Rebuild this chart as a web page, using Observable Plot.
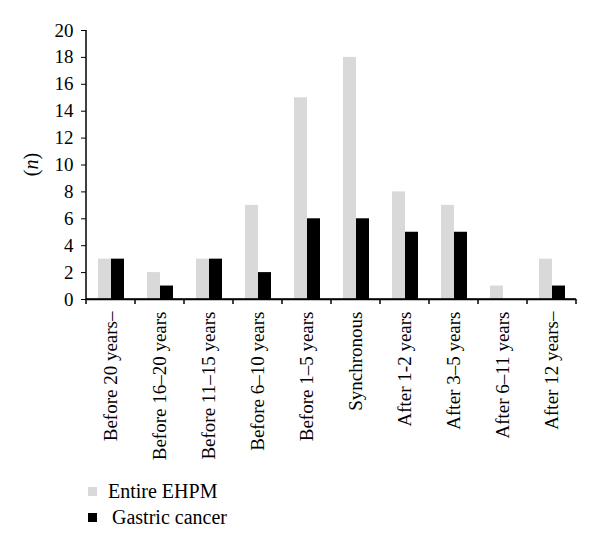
<!DOCTYPE html>
<html><head><meta charset="utf-8">
<script src="https://cdn.jsdelivr.net/npm/d3@7"></script>
<script src="https://cdn.jsdelivr.net/npm/@observablehq/plot@0.6"></script>
<style>
body{margin:0;background:#fff;font-family:"Liberation Serif",serif;color:#000}
#legend{margin-top:8px}
.item{display:flex;align-items:center;height:26px;font-size:20px}
.sw{width:9px;height:9px;margin-left:88px}
</style>
</head><body><div id="chart"></div><div id="legend"></div><script>
const categories = ["Before 20 years–","Before 16–20 years","Before 11–15 years","Before 6–10 years","Before 1–5 years","Synchronous","After 1-2 years","After 3–5 years","After 6–11 years","After 12 years–"];
const seriesNames = ["Entire EHPM","Gastric cancer"];
const seriesColors = ["#d9d9d9","#000000"];
const entireEHPM = [3,2,3,7,15,18,8,7,1,3];
const gastricCancer = [3,1,3,2,6,6,5,5,0,1];
const yTicks = [0,2,4,6,8,10,12,14,16,18,20];
const yLabel = "n";

const data = [];
categories.forEach((c,i)=>{
  data.push({cat:c, series:seriesNames[0], value:entireEHPM[i]});
  data.push({cat:c, series:seriesNames[1], value:gastricCancer[i]});
});

const chart = Plot.plot({
  width: 600, height: 470,
  marginTop: 30, marginBottom: 171, marginLeft: 82, marginRight: 21,
  style: {fontFamily: "'Liberation Serif', serif", fontSize: "19px", color: "#000", background: "#fff"},
  fx: {domain: categories, padding: 0, label: null},
  x: {domain: seriesNames, paddingInner: 0, paddingOuter: 0.775, axis: null},
  y: {domain: [0,20], label: null},
  color: {domain: seriesNames, range: seriesColors},
  marks: [
    Plot.barY(data, {fx: "cat", x: "series", y: "value", fill: "series"}),
    Plot.ruleY([0], {stroke: "#000", strokeWidth: 1.5}),
    Plot.axisY({ticks: yTicks, tickSize: 5, tickPadding: 8, label: null, fontSize: 19}),
    Plot.axisFx({anchor: "bottom", tickRotate: -90, tickSize: 0, tickPadding: 12, label: null, fontSize: 19})
  ]
});
document.getElementById("chart").appendChild(chart);

// boundary ticks, y axis line, y label
const svg = d3.select(chart);
const fx = chart.scale("fx"), y = chart.scale("y");
const y0 = y.apply(0), yTop = y.apply(20);
const left = fx.apply(categories[0]);
const right = fx.apply(categories[categories.length-1]) + fx.bandwidth;
const edges = categories.map(c => fx.apply(c)).concat([right]);
const g = svg.append("g").attr("stroke","#000").attr("stroke-width",1.5);
edges.forEach(e => g.append("line").attr("x1",e).attr("x2",e).attr("y1",y0).attr("y2",y0+5));
g.append("line").attr("x1",left).attr("x2",left).attr("y1",yTop).attr("y2",y0);
g.append("line").attr("x1",left).attr("x2",right).attr("y1",y0).attr("y2",y0);
const t = svg.append("text")
  .attr("transform",`translate(31,${(y0+yTop)/2}) rotate(-90)`)
  .attr("text-anchor","middle").attr("dominant-baseline","central")
  .attr("font-size",20).attr("font-family","'Liberation Serif', serif");
t.append("tspan").text("(");
t.append("tspan").attr("font-style","italic").text(yLabel);
t.append("tspan").text(")");

// legend
const leg = d3.select("#legend");
seriesNames.forEach((s,i)=>{
  const it = leg.append("div").attr("class","item");
  it.append("div").attr("class","sw").style("background",seriesColors[i]).style("margin-right", i===0 ? "11px" : "15px");
  it.append("span").text(s);
});
</script></body></html>
